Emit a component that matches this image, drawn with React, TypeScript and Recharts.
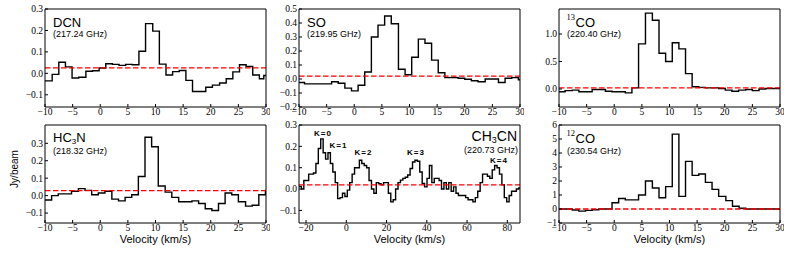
import React from 'react';
import { LineChart, Line, XAxis, YAxis, ReferenceLine } from 'recharts';

// ---------- data (bin left edges in km/s, flux in Jy/beam) ----------
const dcnVelocity = [-10, -8.7, -7.5, -6.3, -5.1, -3.9, -2.6, -1.4, -0.2, 1.0, 2.2, 3.4, 4.6, 5.8, 7.0, 8.2, 9.5, 10.7, 11.9, 13.1, 14.3, 15.5, 16.7, 17.9, 19.1, 20.3, 21.6, 22.8, 24.0, 25.2, 26.4, 27.6, 28.8, 29.6, 30];
const dcnFlux = [-0.035, -0.005, 0.052, 0.03, -0.022, -0.018, 0.01, 0.012, 0.025, 0.045, 0.042, 0.037, 0.042, 0.04, 0.103, 0.232, 0.197, 0.043, -0.008, 0.008, 0.013, -0.033, -0.085, -0.085, -0.065, -0.055, -0.045, -0.025, 0.007, 0.04, 0.032, -0.008, -0.025, -0.01, -0.01];

const soVelocity = [-10, -9.0, -7.8, -6.6, -5.4, -4.1, -2.9, -1.7, -0.5, 0.7, 1.9, 3.1, 4.3, 5.5, 6.7, 8.0, 9.2, 10.4, 11.6, 12.8, 14.0, 15.2, 16.4, 17.6, 18.8, 20.0, 21.2, 22.4, 23.7, 24.9, 26.1, 27.3, 28.5, 29.7, 30];
const soFlux = [-0.025, -0.035, -0.035, -0.035, -0.035, -0.02, -0.03, -0.065, -0.085, -0.045, 0.05, 0.3, 0.385, 0.45, 0.395, 0.07, 0.03, 0.155, 0.285, 0.255, 0.135, 0.045, 0.01, 0.01, 0.005, -0.002, -0.012, -0.02, 0.0, 0.0, -0.025, 0.005, 0.01, -0.005, -0.005];

const co13Velocity = [-10, -8.9, -7.6, -6.4, -5.2, -4.0, -2.8, -1.6, -0.4, 0.8, 2.0, 3.2, 4.4, 5.65, 6.9, 8.1, 9.3, 10.5, 11.7, 12.9, 14.1, 15.3, 16.5, 17.7, 18.9, 20.1, 21.3, 22.5, 23.8, 25.0, 26.2, 27.4, 28.6, 29.8, 30];
const co13Flux = [-0.05, -0.03, -0.02, -0.05, -0.05, -0.01, -0.01, -0.04, -0.05, -0.05, -0.07, 0.02, 0.82, 1.38, 1.25, 0.65, 0.5, 0.84, 0.73, 0.28, 0.04, 0.03, 0.02, 0.02, 0.01, -0.02, -0.04, -0.02, -0.01, -0.03, 0.0, 0.01, 0.01, 0.01, 0.01];

const hc3nVelocity = [-10, -8.8, -7.6, -6.4, -5.2, -3.95, -2.75, -1.55, -0.35, 0.85, 2.1, 3.3, 4.5, 5.7, 6.9, 8.1, 9.3, 10.5, 11.75, 12.95, 14.2, 15.4, 16.6, 17.8, 19.0, 20.2, 21.4, 22.6, 23.8, 25.0, 26.3, 27.5, 28.7, 29.9, 30];
const hc3nFlux = [-0.025, 0.0, 0.01, 0.01, 0.025, 0.04, 0.03, 0.005, 0.015, 0.025, -0.02, -0.03, -0.01, 0.005, 0.11, 0.335, 0.28, 0.055, 0.02, -0.01, -0.035, -0.035, -0.03, -0.045, -0.075, -0.085, -0.045, 0.015, 0.005, -0.035, -0.06, -0.055, 0.005, 0.03, 0.03];

const ch3cnVelocity = [
  -23.5, -22.3, -21.1, -19.9, -18.7, -17.5, -16.3, -15.1, -13.9, -12.7,
  -11.5, -10.3, -9.1, -7.9, -6.7, -5.5, -4.3, -3.1, -1.9, -0.7,
  0.5, 1.7, 2.9, 4.1, 5.3, 6.5, 7.7, 8.9, 10.1, 11.3,
  12.5, 13.7, 14.9, 16.1, 17.3, 18.5, 19.7, 20.9, 22.1, 23.3,
  24.5, 25.7, 26.9, 28.1, 29.3, 30.5, 31.7, 32.9, 34.1, 35.3,
  36.5, 37.7, 38.9, 40.1, 41.3, 42.5, 43.7, 44.9, 46.1, 47.3,
  48.5, 49.7, 50.9, 52.1, 53.3, 54.5, 55.7, 56.9, 58.1, 59.3,
  60.5, 61.7, 62.9, 64.1, 65.3, 66.5, 67.7, 68.9, 70.1, 71.3,
  72.5, 73.7, 74.9, 76.1, 77.3, 78.5, 79.7, 80.9, 82.1, 83.3,
  84.5, 85.7, 86.3,
];
const ch3cnFlux = [
  0.012, 0.0, 0.04, 0.04, 0.07, 0.07, 0.075, 0.12, 0.19, 0.235,
  0.17, 0.14, 0.17, 0.12, 0.08, 0.03, -0.045, -0.04, -0.02, -0.035,
  -0.005, 0.03, 0.07, 0.1, 0.1, 0.135, 0.12, 0.11, 0.1, 0.04,
  0.0, -0.02, 0.03, 0.025, 0.02, 0.03, 0.03, -0.02, -0.06, -0.05,
  0.0, 0.03, 0.042, 0.05, 0.055, 0.066, 0.096, 0.127, 0.135, 0.13,
  0.08, 0.026, 0.01, 0.05, 0.11, 0.03, 0.05, 0.05, 0.04, 0.0,
  0.03, 0.0, 0.03, -0.01, 0.01, -0.02, -0.03, -0.03, -0.03, -0.04,
  -0.05, -0.05, -0.06, -0.04, -0.01, 0.03, 0.07, 0.07, 0.06, 0.05,
  0.09, 0.11, 0.1, 0.07, 0.02, -0.04, -0.06, -0.03, -0.01, -0.01,
  0.0, 0.005, 0.005,
];

const co12Velocity = [-10, -7.6, -6.4, -5.2, -4.0, -2.8, -1.6, -0.4, 0.8, 2.0, 3.2, 4.4, 5.65, 6.9, 8.1, 9.3, 10.5, 11.7, 12.9, 14.1, 15.3, 16.5, 17.7, 18.9, 20.2, 21.4, 22.6, 23.8, 25.0, 26.2, 27.4, 28.6, 29.8, 30];
const co12Flux = [0.0, -0.07, -0.15, -0.1, -0.05, 0.0, 0.0, 0.45, 0.75, 0.65, 0.65, 1.0, 2.0, 1.5, 0.8, 1.6, 5.35, 0.9, 3.4, 2.4, 2.5, 1.9, 1.4, 0.9, 0.6, 0.2, 0.05, 0.0, 0.0, 0.0, 0.0, 0.0, -0.03, -0.03];

const dcnLevel = 0.025;
const soLevel = 0.021;
const co13Level = 0.02;
const hc3nLevel = 0.029;
const ch3cnLevel = 0.02;
const co12Level = 0.0;

const velTicks = [-10, -5, 0, 5, 10, 15, 20, 25, 30];
const ch3cnVelTicks = [-20, 0, 20, 40, 60, 80];
const dcnTicks = [-0.1, 0.0, 0.1, 0.2, 0.3];
const soTicks = [-0.2, -0.1, 0.0, 0.1, 0.2, 0.3, 0.4, 0.5];
const co13Ticks = [0.0, 0.5, 1.0];
const hc3nTicks = [-0.1, 0.0, 0.1, 0.2, 0.3];
const ch3cnTicks = [-0.1, 0.0, 0.1, 0.2, 0.3];
const co12Ticks = [-1, 0, 1, 2, 3, 4, 5, 6];

const kLabels = ['K=0', 'K=1', 'K=2', 'K=3', 'K=4'];

// ---------- layout ----------
const SERIF = '"Liberation Serif", "Times New Roman", serif';
const SANS = '"Liberation Sans", Arial, sans-serif';
const L = 44;
const T = 4;
const R = 4;
const B = 16;

const minus = (s: string) => s.replace('-', '\u2212');
const fmt0 = (v: number) => minus(String(Math.round(v)));
const fmt1 = (v: number) => minus((Math.abs(v) < 1e-9 ? 0 : v).toFixed(1));

type PanelProps = {
  vel: number[];
  flux: number[];
  level: number;
  xDomain: [number, number];
  yDomain: [number, number];
  xTicks: number[];
  yTicks: number[];
  yFmt: (v: number) => string;
  left: number;
  top: number;
  w: number;
  h: number;
};

function Panel(p: PanelProps) {
  const data = p.vel.map((v, i) => ({ v, f: p.flux[i] }));
  const tickStyle = { fontSize: 9.5, fill: '#000', fontFamily: SERIF };
  const lineStyle = { stroke: '#000', strokeWidth: 1 };
  return (
    <div style={{ position: 'absolute', left: p.left - L, top: p.top - T }}>
      <LineChart
        width={p.w + L + R}
        height={p.h + T + B}
        data={data}
        margin={{ top: T - 1, right: R - 1, bottom: 0, left: 0 }}
      >
        <XAxis
          xAxisId="b"
          dataKey="v"
          type="number"
          orientation="bottom"
          domain={p.xDomain}
          allowDataOverflow
          ticks={p.xTicks}
          interval={0}
          height={B}
          tickSize={-3}
          tickMargin={4.5}
          tickFormatter={fmt0}
          tick={tickStyle}
          axisLine={lineStyle}
          tickLine={lineStyle}
        />
        <XAxis
          xAxisId="t"
          dataKey="v"
          type="number"
          orientation="top"
          domain={p.xDomain}
          allowDataOverflow
          ticks={p.xTicks}
          interval={0}
          height={1}
          tickSize={-3}
          tick={false}
          axisLine={lineStyle}
          tickLine={lineStyle}
        />
        <YAxis
          yAxisId="l"
          type="number"
          orientation="left"
          domain={p.yDomain}
          allowDataOverflow
          ticks={p.yTicks}
          interval={0}
          width={L}
          tickSize={-3}
          tickMargin={5}
          tickFormatter={p.yFmt}
          tick={tickStyle}
          axisLine={lineStyle}
          tickLine={lineStyle}
        />
        <YAxis
          yAxisId="r"
          type="number"
          orientation="right"
          domain={p.yDomain}
          allowDataOverflow
          ticks={p.yTicks}
          interval={0}
          width={1}
          tickSize={-3}
          tick={false}
          axisLine={lineStyle}
          tickLine={lineStyle}
        />
        <Line
          xAxisId="b"
          yAxisId="l"
          dataKey="f"
          type="stepAfter"
          stroke="#000"
          strokeWidth={1.4}
          dot={false}
          isAnimationActive={false}
        />
        <ReferenceLine
          xAxisId="b"
          yAxisId="l"
          y={p.level}
          stroke="#ff0000"
          strokeWidth={1.3}
          strokeDasharray="5.5 2.5"
        />
      </LineChart>
    </div>
  );
}

const COLS = [45, 299, 559];
const ROWS = [9, 125];
const PW = 221;
const PH = 98;

export default function App() {
  const nameStyle = { fontFamily: SANS, fontSize: 13, fill: '#000' } as const;
  const freqStyle = { fontFamily: SANS, fontSize: 9, fill: '#000' } as const;
  const kStyle = { fontFamily: SANS, fontSize: 8, fontWeight: 700, fill: '#000', letterSpacing: 1 } as const;
  const velStyle = { fontFamily: SANS, fontSize: 11, fill: '#000' } as const;
  return (
    <div style={{ position: 'absolute', left: 0, top: 0, width: 789, height: 260, background: '#fff', overflow: 'hidden' }}>
      <Panel vel={dcnVelocity} flux={dcnFlux} level={dcnLevel} xDomain={[-10, 30]} yDomain={[-0.157, 0.3]} xTicks={velTicks} yTicks={dcnTicks} yFmt={fmt1} left={COLS[0]} top={ROWS[0]} w={PW} h={PH} />
      <Panel vel={soVelocity} flux={soFlux} level={soLevel} xDomain={[-10, 30]} yDomain={[-0.2, 0.5]} xTicks={velTicks} yTicks={soTicks} yFmt={fmt1} left={COLS[1]} top={ROWS[0]} w={PW} h={PH} />
      <Panel vel={co13Velocity} flux={co13Flux} level={co13Level} xDomain={[-10, 30]} yDomain={[-0.327, 1.455]} xTicks={velTicks} yTicks={co13Ticks} yFmt={fmt1} left={COLS[2]} top={ROWS[0]} w={PW} h={PH} />
      <Panel vel={hc3nVelocity} flux={hc3nFlux} level={hc3nLevel} xDomain={[-10, 30]} yDomain={[-0.157, 0.405]} xTicks={velTicks} yTicks={hc3nTicks} yFmt={fmt1} left={COLS[0]} top={ROWS[1]} w={PW} h={PH} />
      <Panel vel={ch3cnVelocity} flux={ch3cnFlux} level={ch3cnLevel} xDomain={[-23.5, 86.3]} yDomain={[-0.159, 0.3]} xTicks={ch3cnVelTicks} yTicks={ch3cnTicks} yFmt={fmt1} left={COLS[1]} top={ROWS[1]} w={PW} h={PH} />
      <Panel vel={co12Velocity} flux={co12Flux} level={co12Level} xDomain={[-10, 30]} yDomain={[-1, 6]} xTicks={velTicks} yTicks={co12Ticks} yFmt={fmt0} left={COLS[2]} top={ROWS[1]} w={PW} h={PH} />

      <svg width={789} height={260} style={{ position: 'absolute', left: 0, top: 0, pointerEvents: 'none' }}>
        <text x={53} y={26.7} {...nameStyle}>DCN</text>
        <text x={53} y={37.2} {...freqStyle}>(217.24 GHz)</text>
        <text x={307} y={26.7} {...nameStyle}>SO</text>
        <text x={307} y={37.2} {...freqStyle}>(219.95 GHz)</text>
        <text x={566.5} y={19.5} fontFamily={SERIF} fontSize={8.5} fill="#000">13</text>
        <text x={575.5} y={26.7} {...nameStyle}>CO</text>
        <text x={567} y={37.2} {...freqStyle}>(220.40 GHz)</text>

        <text x={53} y={141.5} {...nameStyle}>
          <tspan>HC</tspan>
          <tspan fontSize={8} dy={2.2}>3</tspan>
          <tspan dy={-2.2}>N</tspan>
        </text>
        <text x={53} y={153.5} {...freqStyle}>(218.32 GHz)</text>
        <text x={517} y={140.8} {...nameStyle} fontSize={14} textAnchor="end">
          <tspan>CH</tspan>
          <tspan fontSize={9} dy={2}>3</tspan>
          <tspan dy={-2}>CN</tspan>
        </text>
        <text x={518} y={152.5} {...freqStyle} textAnchor="end">(220.73 GHz)</text>
        <text x={566.5} y={136} fontFamily={SERIF} fontSize={8.5} fill="#000">12</text>
        <text x={575.5} y={143.2} {...nameStyle}>CO</text>
        <text x={567} y={154} {...freqStyle}>(230.54 GHz)</text>

        <text x={323} y={135.7} {...kStyle} textAnchor="middle">{kLabels[0]}</text>
        <text x={338.5} y={148.4} {...kStyle} textAnchor="middle">{kLabels[1]}</text>
        <text x={363.5} y={154.7} {...kStyle} textAnchor="middle">{kLabels[2]}</text>
        <text x={416} y={155.4} {...kStyle} textAnchor="middle">{kLabels[3]}</text>
        <text x={499} y={163.2} {...kStyle} textAnchor="middle">{kLabels[4]}</text>

        <text x={14} y={169} fontFamily={SANS} fontSize={10} fill="#000" textAnchor="middle" dominantBaseline="central" transform="rotate(-90 14 169)">Jy/beam</text>

        <text x={155.5} y={243} {...velStyle} textAnchor="middle">Velocity (km/s)</text>
        <text x={409.5} y={243} {...velStyle} textAnchor="middle">Velocity (km/s)</text>
        <text x={669.5} y={243} {...velStyle} textAnchor="middle">Velocity (km/s)</text>
      </svg>
    </div>
  );
}
